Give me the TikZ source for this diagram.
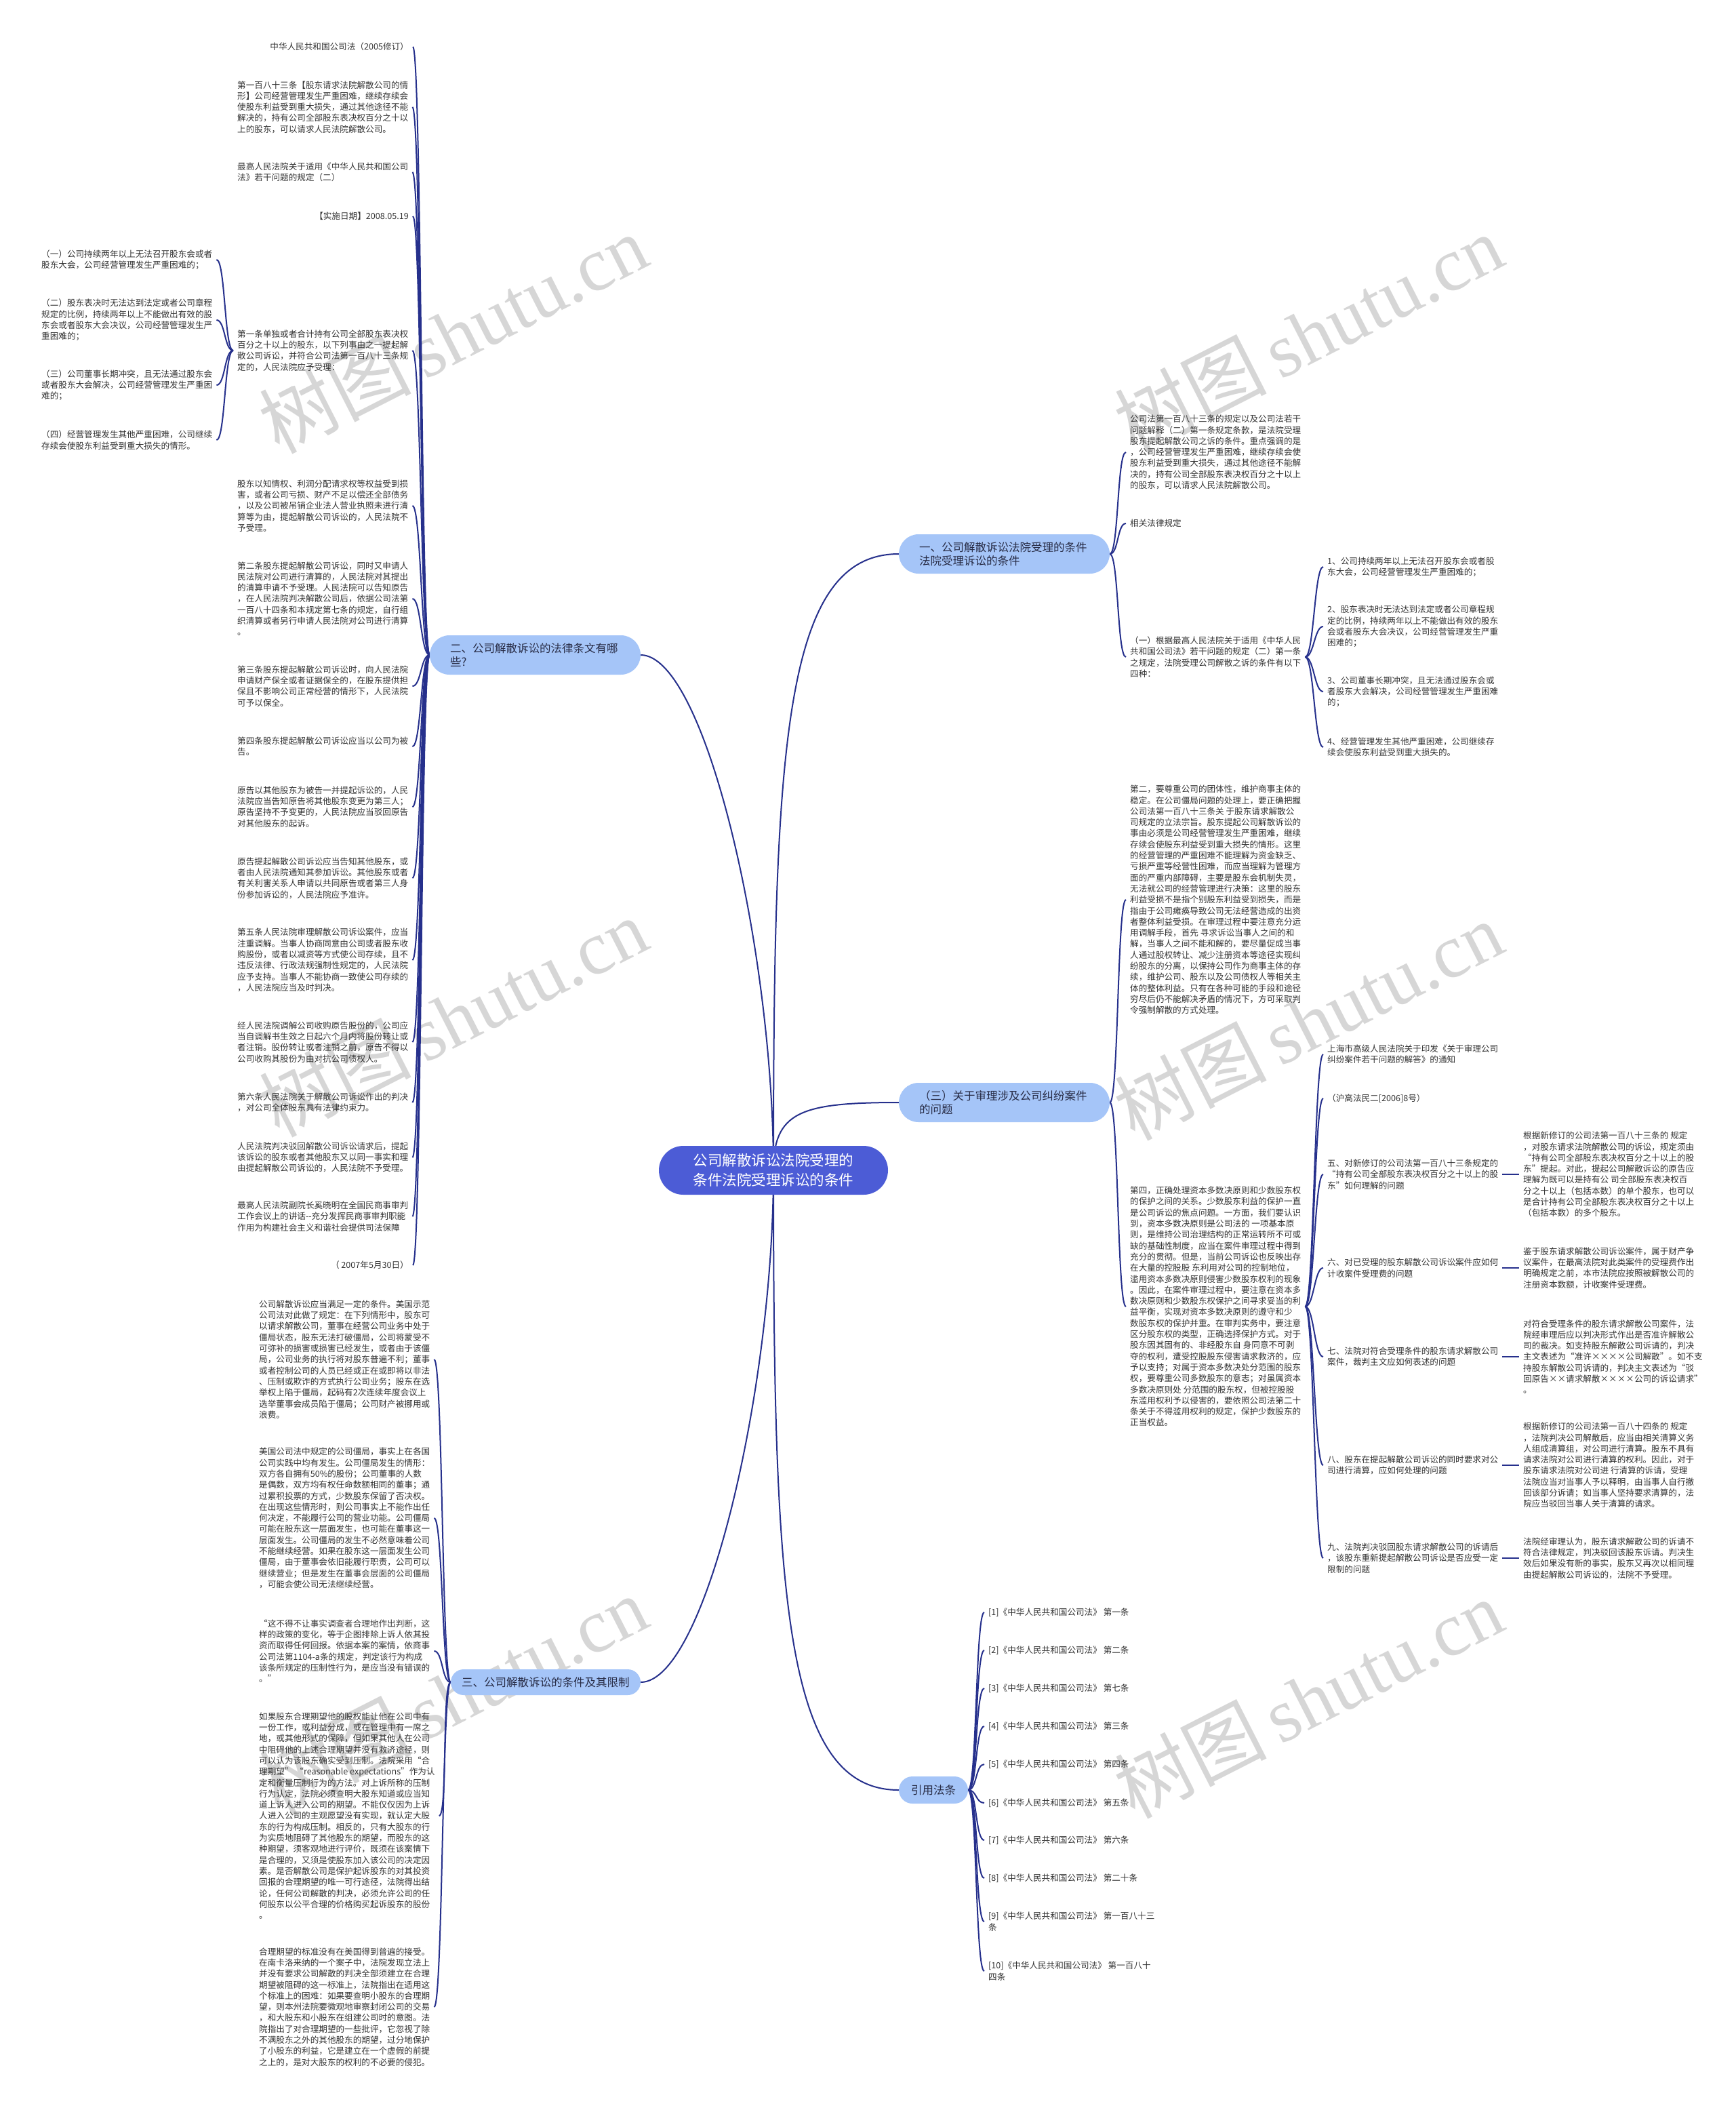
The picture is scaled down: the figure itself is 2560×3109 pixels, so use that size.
\documentclass[tikz,border=0pt]{standalone}
\usepackage{fontspec}
\setmainfont{Noto Sans CJK SC}
\newfontfamily\wmserif{Liberation Serif}
\definecolor{linec}{RGB}{38,48,140}
\definecolor{centerc}{RGB}{76,92,214}
\definecolor{branchc}{RGB}{165,197,248}
\definecolor{leafc}{RGB}{51,51,51}
\definecolor{btext}{RGB}{40,44,70}
\definecolor{wmc}{RGB}{214,214,214}
\newcommand{\leaffont}{\fontsize{12.6}{16.3}\selectfont}
\newcommand{\branchfont}{\fontsize{16.5}{20.5}\selectfont}
\newcommand{\centerfont}{\fontsize{21.5}{29}\selectfont}
\newcommand{\wmfont}{\fontsize{112}{112}\selectfont}
\newcommand{\conR}[2]{\draw[conn] ([xshift=6]#1.east) .. controls +(13,0) and +(-13,0) .. ([xshift=-6]#2.west);}
\newcommand{\conRb}[2]{\draw[conn] (#1.east) .. controls +(13,0) and +(-13,0) .. ([xshift=-6]#2.west);}
\newcommand{\conL}[2]{\draw[conn] ([xshift=-6]#1.west) .. controls +(-13,0) and +(13,0) .. ([xshift=6]#2.east);}
\newcommand{\conLb}[2]{\draw[conn] (#1.west) .. controls +(-13,0) and +(13,0) .. ([xshift=6]#2.east);}
\pgfdeclarelayer{wmlayer}
\pgfdeclarelayer{bg}
\pgfsetlayers{wmlayer,bg,main}
\begin{document}
\begin{tikzpicture}[x=1pt,y=-1pt,
  conn/.style={draw=linec,line width=2pt},
  leaf/.style={font=\leaffont,text=leafc,inner sep=0pt,align=left},
  lw/.style={leaf,anchor=west},
  le/.style={leaf,anchor=east},
  branchbox/.style={fill=branchc,text=btext,font=\branchfont,align=left,inner ysep=0pt},
  centerbox/.style={fill=centerc,text=white,font=\centerfont,align=center,rounded corners=36pt,minimum width=338pt,minimum height=72pt,inner sep=0pt},
  wm/.style={text=wmc,rotate=27,inner sep=0pt,font=\wmfont}
]
\begin{pgfonlayer}{wmlayer}
\fill[white] (0,0) rectangle (2560,3109);
\node[wm] (w1) at (668,492) {树图\,{\wmserif shutu.cn}};
\node[wm] (w2) at (668,1500) {树图\,{\wmserif shutu.cn}};
\node[wm] (w3) at (668,2500) {树图\,{\wmserif shutu.cn}};
\node[wm] (w4) at (1930,492) {树图\,{\wmserif shutu.cn}};
\node[wm] (w5) at (1930,1505) {树图\,{\wmserif shutu.cn}};
\node[wm] (w6) at (1930,2505) {树图\,{\wmserif shutu.cn}};
\end{pgfonlayer}
\useasboundingbox (0,0) rectangle (2560,3109);

% ---------- center and branches ----------
\node[centerbox] (c) at (1141,1726) {公司解散诉讼法院受理的\\条件法院受理诉讼的条件};
\node[branchbox,text width=251pt,inner xsep=30pt,minimum height=58pt,rounded corners=29pt] (b1) at (1481.5,817) {一、公司解散诉讼法院受理的条件\\法院受理诉讼的条件};
\node[branchbox,text width=251pt,inner xsep=30pt,minimum height=58pt,rounded corners=29pt] (b3r) at (1481.5,1626) {（三）关于审理涉及公司纠纷案件\\的问题};
\node[branchbox,text width=66pt,inner xsep=18pt,minimum height=40pt,rounded corners=20pt,align=center] (bref) at (1377,2640) {引用法条};
\node[branchbox,text width=251pt,inner xsep=30pt,minimum height=58pt,rounded corners=29pt] (b2) at (789.5,966) {二、公司解散诉讼的法律条文有哪\\些?};
\node[branchbox,text width=248pt,inner xsep=16pt,minimum height=38pt,rounded corners=19pt] (b3) at (805,2481) {三、公司解散诉讼的条件及其限制};

% ---------- branch 二 children ----------
\node[le] (l1) at (603,69) {中华人民共和国公司法（2005修订）};
\node[lw] (l2) at (350,158) {第一百八十三条【股东请求法院解散公司的情\\形】公司经营管理发生严重困难，继续存续会\\使股东利益受到重大损失，通过其他途径不能\\解决的，持有公司全部股东表决权百分之十以\\上的股东，可以请求人民法院解散公司。};
\node[lw] (l3) at (350,254) {最高人民法院关于适用《中华人民共和国公司\\法》若干问题的规定（二）};
\node[le] (l4) at (603,319) {【实施日期】2008.05.19};
\node[lw] (l5) at (350,517) {第一条单独或者合计持有公司全部股东表决权\\百分之十以上的股东，以下列事由之一提起解\\散公司诉讼，并符合公司法第一百八十三条规\\定的，人民法院应予受理：};
\node[lw] (l6) at (350,746) {股东以知情权、利润分配请求权等权益受到损\\害，或者公司亏损、财产不足以偿还全部债务\\，以及公司被吊销企业法人营业执照未进行清\\算等为由，提起解散公司诉讼的，人民法院不\\予受理。};
\node[lw] (l7) at (350,883) {第二条股东提起解散公司诉讼，同时又申请人\\民法院对公司进行清算的，人民法院对其提出\\的清算申请不予受理。人民法院可以告知原告\\，在人民法院判决解散公司后，依据公司法第\\一百八十四条和本规定第七条的规定，自行组\\织清算或者另行申请人民法院对公司进行清算\\。};
\node[lw] (l8) at (350,1012) {第三条股东提起解散公司诉讼时，向人民法院\\申请财产保全或者证据保全的，在股东提供担\\保且不影响公司正常经营的情形下，人民法院\\可予以保全。};
\node[lw] (l9) at (350,1101) {第四条股东提起解散公司诉讼应当以公司为被\\告。};
\node[lw] (l10) at (350,1190) {原告以其他股东为被告一并提起诉讼的，人民\\法院应当告知原告将其他股东变更为第三人；\\原告坚持不予变更的，人民法院应当驳回原告\\对其他股东的起诉。};
\node[lw] (l11) at (350,1295) {原告提起解散公司诉讼应当告知其他股东，或\\者由人民法院通知其参加诉讼。其他股东或者\\有关利害关系人申请以共同原告或者第三人身\\份参加诉讼的，人民法院应予准许。};
\node[lw] (l12) at (350,1416) {第五条人民法院审理解散公司诉讼案件，应当\\注重调解。当事人协商同意由公司或者股东收\\购股份，或者以减资等方式使公司存续，且不\\违反法律、行政法规强制性规定的，人民法院\\应予支持。当事人不能协商一致使公司存续的\\，人民法院应当及时判决。};
\node[lw] (l13) at (350,1537) {经人民法院调解公司收购原告股份的，公司应\\当自调解书生效之日起六个月内将股份转让或\\者注销。股份转让或者注销之前，原告不得以\\公司收购其股份为由对抗公司债权人。};
\node[lw] (l14) at (350,1626) {第六条人民法院关于解散公司诉讼作出的判决\\，对公司全体股东具有法律约束力。};
\node[lw] (l15) at (350,1707) {人民法院判决驳回解散公司诉讼请求后，提起\\该诉讼的股东或者其他股东又以同一事实和理\\由提起解散公司诉讼的，人民法院不予受理。};
\node[lw] (l16) at (350,1794) {最高人民法院副院长奚晓明在全国民商事审判\\工作会议上的讲话-{}-充分发挥民商事审判职能\\作用为构建社会主义和谐社会提供司法保障};
\node[le] (l17) at (603,1866) {（ 2007年5月30日）};

% far-left children of l5
\node[lw] (f1) at (61,383) {（一）公司持续两年以上无法召开股东会或者\\股东大会，公司经营管理发生严重困难的；};
\node[lw] (f2) at (61,472) {（二）股东表决时无法达到法定或者公司章程\\规定的比例，持续两年以上不能做出有效的股\\东会或者股东大会决议，公司经营管理发生严\\重困难的；};
\node[lw] (f3) at (61,568) {（三）公司董事长期冲突，且无法通过股东会\\或者股东大会解决，公司经营管理发生严重困\\难的；};
\node[lw] (f4) at (61,649) {（四）经营管理发生其他严重困难，公司继续\\存续会使股东利益受到重大损失的情形。};

% ---------- branch 三 (left) children ----------
\node[lw] (t1) at (382,2005) {公司解散诉讼应当满足一定的条件。美国示范\\公司法对此做了规定：在下列情形中，股东可\\以请求解散公司，董事在经营公司业务中处于\\僵局状态，股东无法打破僵局，公司将蒙受不\\可弥补的损害或损害已经发生，或者由于该僵\\局，公司业务的执行将对股东普遍不利；董事\\或者控制公司的人员已经或正在或即将以非法\\、压制或欺诈的方式执行公司业务；股东在选\\举权上陷于僵局，起码有2次连续年度会议上\\选举董事会成员陷于僵局；公司财产被挪用或\\浪费。};
\node[lw] (t2) at (382,2239) {美国公司法中规定的公司僵局，事实上在各国\\公司实践中均有发生。公司僵局发生的情形：\\双方各自拥有50\%的股份；公司董事的人数\\是偶数，双方均有权任命数额相同的董事；通\\过累积投票的方式，少数股东保留了否决权。\\在出现这些情形时，则公司事实上不能作出任\\何决定，不能履行公司的营业功能。公司僵局\\可能在股东这一层面发生，也可能在董事这一\\层面发生。公司僵局的发生不必然意味着公司\\不能继续经营。如果在股东这一层面发生公司\\僵局，由于董事会依旧能履行职责，公司可以\\继续营业；但是发生在董事会层面的公司僵局\\，可能会使公司无法继续经营。};
\node[lw] (t3) at (382,2435) {“这不得不让事实调查者合理地作出判断，这\\样的政策的变化，等于企图排除上诉人依其投\\资而取得任何回报。依据本案的案情，依商事\\公司法第1104-a条的规定，判定该行为构成\\该条所规定的压制性行为，是应当没有错误的\\。”};
\node[lw] (t4) at (382,2678) {如果股东合理期望他的股权能让他在公司中有\\一份工作，或利益分成，或在管理中有一席之\\地，或其他形式的保障，但如果其他人在公司\\中阻碍他的上述合理期望并没有救济途径，则\\可以认为该股东确实受到压制。法院采用“合\\理期望” “reasonable expectations”作为认\\定和衡量压制行为的方法。对上诉所称的压制\\行为认定，法院必须查明大股东知道或应当知\\道上诉人进入公司的期望。不能仅仅因为上诉\\人进入公司的主观愿望没有实现，就认定大股\\东的行为构成压制。相反的，只有大股东的行\\为实质地阻碍了其他股东的期望，而股东的这\\种期望，须客观地进行评价，既须在该案情下\\是合理的，又须是使股东加入该公司的决定因\\素。是否解散公司是保护起诉股东的对其投资\\回报的合理期望的唯一可行途径，法院得出结\\论，任何公司解散的判决，必须允许公司的任\\何股东以公平合理的价格购买起诉股东的股份\\。};
\node[lw] (t5) at (382,2960) {合理期望的标准没有在美国得到普遍的接受。\\在南卡洛来纳的一个案子中，法院发现立法上\\并没有要求公司解散的判决全部须建立在合理\\期望被阻碍的这一标准上，法院指出在适用这\\个标准上的困难：如果要查明小股东的合理期\\望，则本州法院要微观地审察封闭公司的交易\\，和大股东和小股东在组建公司时的意图。法\\院指出了对合理期望的一些批评，它忽视了除\\不满股东之外的其他股东的期望，过分地保护\\了小股东的利益，它是建立在一个虚假的前提\\之上的，是对大股东的权利的不必要的侵犯。};

% ---------- branch 一 children ----------
\node[lw] (r1) at (1667,667) {公司法第一百八十三条的规定以及公司法若干\\问题解释（二）第一条规定条款，是法院受理\\股东提起解散公司之诉的条件。重点强调的是\\，公司经营管理发生严重困难，继续存续会使\\股东利益受到重大损失，通过其他途径不能解\\决的，持有公司全部股东表决权百分之十以上\\的股东，可以请求人民法院解散公司。};
\node[lw] (r2) at (1667,772) {相关法律规定};
\node[lw] (r3) at (1667,969) {（一）根据最高人民法院关于适用《中华人民\\共和国公司法》若干问题的规定（二）第一条\\之规定，法院受理公司解散之诉的条件有以下\\四种：};
\node[lw] (r3a) at (1958,836) {1、公司持续两年以上无法召开股东会或者股\\东大会，公司经营管理发生严重困难的；};
\node[lw] (r3b) at (1958,924) {2、股东表决时无法达到法定或者公司章程规\\定的比例，持续两年以上不能做出有效的股东\\会或者股东大会决议，公司经营管理发生严重\\困难的；};
\node[lw] (r3c) at (1958,1020) {3、公司董事长期冲突，且无法通过股东会或\\者股东大会解决，公司经营管理发生严重困难\\的；};
\node[lw] (r3d) at (1958,1102) {4、经营管理发生其他严重困难，公司继续存\\续会使股东利益受到重大损失的。};

% ---------- branch (三) children ----------
\node[lw] (e1) at (1667,1327) {第二，要尊重公司的团体性，维护商事主体的\\稳定。在公司僵局问题的处理上，要正确把握\\公司法第一百八十三条关 于股东请求解散公\\司规定的立法宗旨。股东提起公司解散诉讼的\\事由必须是公司经营管理发生严重困难，继续\\存续会使股东利益受到重大损失的情形。这里\\的经营管理的严重困难不能理解为资金缺乏、\\亏损严重等经营性困难，而应当理解为管理方\\面的严重内部障碍，主要是股东会机制失灵，\\无法就公司的经营管理进行决策：这里的股东\\利益受损不是指个别股东利益受到损失，而是\\指由于公司瘫痪导致公司无法经营造成的出资\\者整体利益受损。在审理过程中要注意充分运\\用调解手段，首先 寻求诉讼当事人之间的和\\解，当事人之间不能和解的，要尽量促成当事\\人通过股权转让、减少注册资本等途径实现纠\\纷股东的分离，以保持公司作为商事主体的存\\续，维护公司、股东以及公司债权人等相关主\\体的整体利益。只有在各种可能的手段和途径\\穷尽后仍不能解决矛盾的情况下，方可采取判\\令强制解散的方式处理。};
\node[lw] (e2) at (1667,1927) {第四，正确处理资本多数决原则和少数股东权\\的保护之间的关系。少数股东利益的保护一直\\是公司诉讼的焦点问题。一方面，我们要认识\\到，资本多数决原则是公司法的 一项基本原\\则，是维持公司治理结构的正常运转所不可或\\缺的基础性制度，应当在案件审理过程中得到\\充分的贯彻。但是，当前公司诉讼也反映出存\\在大量的控股股 东利用对公司的控制地位，\\滥用资本多数决原则侵害少数股东权利的现象\\。因此，在案件审理过程中，要注意在资本多\\数决原则和少数股东权保护之间寻求妥当的利\\益平衡，实现对资本多数决原则的遵守和少\\数股东权的保护并重。在审判实务中，要注意\\区分股东权的类型，正确选择保护方式。对于\\股东因其固有的、非经股东自 身同意不可剥\\夺的权利，遭受控股股东侵害请求救济的，应\\予以支持；对属于资本多数决处分范围的股东\\权，要尊重公司多数股东的意志；对虽属资本\\多数决原则处 分范围的股东权，但被控股股\\东滥用权利予以侵害的，要依照公司法第二十\\条关于不得滥用权利的规定，保护少数股东的\\正当权益。};
\node[lw] (s1) at (1958,1555) {上海市高级人民法院关于印发《关于审理公司\\纠纷案件若干问题的解答》的通知};
\node[lw] (s2) at (1958,1620) {（沪高法民二[2006]8号）};
\node[lw] (s3) at (1958,1732) {五、对新修订的公司法第一百八十三条规定的\\“持有公司全部股东表决权百分之十以上的股\\东”如何理解的问题};
\node[lw] (s4) at (1958,1870) {六、对已受理的股东解散公司诉讼案件应如何\\计收案件受理费的问题};
\node[lw] (s5) at (1958,2001) {七、法院对符合受理条件的股东请求解散公司\\案件，裁判主文应如何表述的问题};
\node[lw] (s6) at (1958,2161) {八、股东在提起解散公司诉讼的同时要求对公\\司进行清算，应如何处理的问题};
\node[lw] (s7) at (1958,2298) {九、法院判决驳回股东请求解散公司的诉请后\\，该股东重新提起解散公司诉讼是否应受一定\\限制的问题};
\node[lw] (a3) at (2247,1732) {根据新修订的公司法第一百八十三条的 规定\\，对股东请求法院解散公司的诉讼，规定须由\\“持有公司全部股东表决权百分之十以上的股\\东”提起。对此，提起公司解散诉讼的原告应\\理解为既可以是持有公 司全部股东表决权百\\分之十以上（包括本数）的单个股东，也可以\\是合计持有公司全部股东表决权百分之十以上\\（包括本数）的多个股东。};
\node[lw] (a4) at (2247,1870) {鉴于股东请求解散公司诉讼案件，属于财产争\\议案件，在最高法院对此类案件的受理费作出\\明确规定之前，本市法院应按照被解散公司的\\注册资本数额，计收案件受理费。};
\node[lw] (a5) at (2247,2001) {对符合受理条件的股东请求解散公司案件，法\\院经审理后应以判决形式作出是否准许解散公\\司的裁决。如支持股东解散公司诉请的，判决\\主文表述为“准许××××公司解散”。如不支\\持股东解散公司诉请的，判决主文表述为“驳\\回原告××请求解散××××公司的诉讼请求”\\。};
\node[lw] (a6) at (2247,2161) {根据新修订的公司法第一百八十四条的 规定\\，法院判决公司解散后，应当由相关清算义务\\人组成清算组，对公司进行清算。股东不具有\\请求法院对公司进行清算的权利。因此，对于\\股东请求法院对公司进 行清算的诉请，受理\\法院应当对当事人予以释明，由当事人自行撤\\回该部分诉请；如当事人坚持要求清算的，法\\院应当驳回当事人关于清算的请求。};
\node[lw] (a7) at (2247,2298) {法院经审理认为，股东请求解散公司的诉请不\\符合法律规定，判决驳回该股东诉请。判决生\\效后如果没有新的事实，股东又再次以相同理\\由提起解散公司诉讼的，法院不予受理。};

% ---------- references ----------
\node[lw] (q1) at (1458,2378) {[1]《中华人民共和国公司法》 第一条};
\node[lw] (q2) at (1458,2434) {[2]《中华人民共和国公司法》 第二条};
\node[lw] (q3) at (1458,2490) {[3]《中华人民共和国公司法》 第七条};
\node[lw] (q4) at (1458,2546) {[4]《中华人民共和国公司法》 第三条};
\node[lw] (q5) at (1458,2602) {[5]《中华人民共和国公司法》 第四条};
\node[lw] (q6) at (1458,2659) {[6]《中华人民共和国公司法》 第五条};
\node[lw] (q7) at (1458,2714) {[7]《中华人民共和国公司法》 第六条};
\node[lw] (q8) at (1458,2770) {[8]《中华人民共和国公司法》 第二十条};
\node[lw] (q9) at (1458,2834) {[9]《中华人民共和国公司法》 第一百八十三\\条};
\node[lw] (q10) at (1458,2907) {[10]《中华人民共和国公司法》 第一百八十\\四条};

% ---------- connectors ----------
\begin{pgfonlayer}{bg}
\draw[conn] (c.center) .. controls (1141,1100) and (1156,817) .. (b1.west);
\draw[conn] (c.center) .. controls (1141,1640) and (1180,1626) .. (b3r.west);
\draw[conn] (c.center) .. controls (1141,2352) and (1156,2640) .. (bref.west);
\draw[conn] (c.center) .. controls (1141,1400) and (1040,966) .. (b2.east);
\draw[conn] (c.center) .. controls (1141,2052) and (1040,2481) .. (b3.east);
\foreach \n in {l1,l2,l3,l4,l5,l6,l7,l8,l9,l10,l11,l12,l13,l14,l15,l16,l17}{\conLb{b2}{\n}}
\foreach \n in {f1,f2,f3,f4}{\conL{l5}{\n}}
\foreach \n in {t1,t2,t3,t4,t5}{\conLb{b3}{\n}}
\foreach \n in {r1,r2,r3}{\conRb{b1}{\n}}
\foreach \n in {r3a,r3b,r3c,r3d}{\conR{r3}{\n}}
\foreach \n in {e1,e2}{\conRb{b3r}{\n}}
\foreach \n in {s1,s2,s3,s4,s5,s6,s7}{\conR{e2}{\n}}
\conR{s3}{a3}
\conR{s4}{a4}
\conR{s5}{a5}
\conR{s6}{a6}
\conR{s7}{a7}
\foreach \n in {q1,q2,q3,q4,q5,q6,q7,q8,q9,q10}{\conRb{bref}{\n}}
\end{pgfonlayer}
\end{tikzpicture}
\end{document}
